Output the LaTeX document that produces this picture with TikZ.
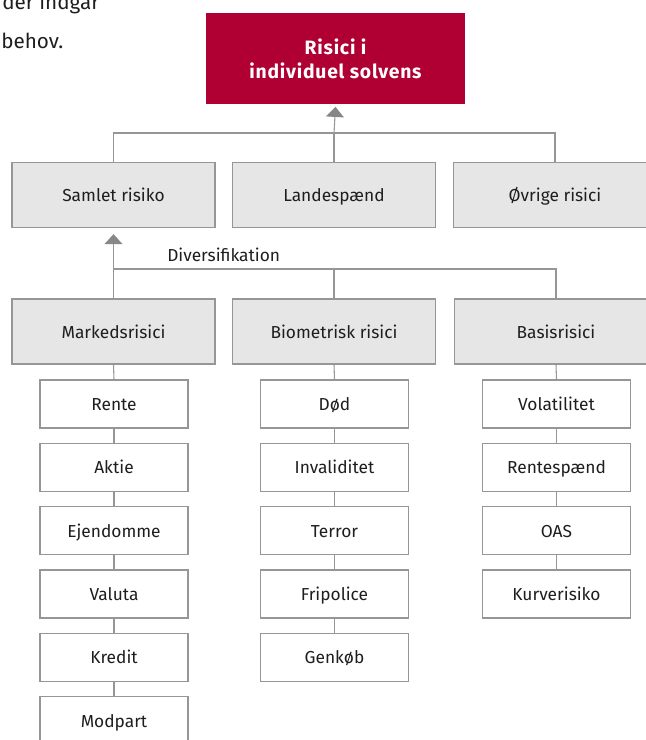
\documentclass[tikz,border=0pt]{standalone}
\usepackage{fontspec}
\setmainfont{Fira Sans}
\usetikzlibrary{arrows.meta}
\definecolor{dred}{RGB}{176,0,51}
\definecolor{boxfill}{RGB}{230,230,230}
\definecolor{boxline}{RGB}{150,150,150}
\definecolor{conn}{RGB}{150,150,150}
\definecolor{arrowc}{RGB}{135,135,135}
\definecolor{txt}{RGB}{30,30,30}
\tikzset{
  dfont/.style={font=\fontsize{13}{15}\selectfont},
  topbox/.style={draw=none,fill=dred,text=white,font=\addfontfeatures{LetterSpace=4}\bfseries\fontsize{14.5}{18}\selectfont,align=center,minimum width=259*0.75pt,minimum height=91*0.75pt,inner sep=0pt},
  graybox/.style={draw=boxline,line width=1pt,fill=boxfill,text=txt,dfont,text height=11pt,text depth=1pt,minimum width=203*0.75pt,minimum height=65*0.75pt,inner sep=0pt},
  leafbox/.style={draw=boxline,line width=1pt,fill=white,text=txt,dfont,text height=11pt,text depth=1pt,minimum width=148*0.75pt,minimum height=48*0.75pt,inner sep=0pt},
  link/.style={draw=conn,line width=0.8pt},
  uparrow/.style={draw=conn,line width=0.8pt,-{Triangle[width=18*0.75pt,length=10*0.75pt,fill=arrowc,color=arrowc]}},
}
\begin{document}
\begin{tikzpicture}[x=0.75pt,y=-0.75pt]
\useasboundingbox (0,0) rectangle (646,740);
\clip (0,0) rectangle (646,740);
% paragraph fragment
\node[anchor=base west,inner sep=0pt,text=txt,font=\fontsize{15.5}{20}\selectfont] (p1) at (2,9) {der indgår};
\node[anchor=base west,inner sep=0pt,text=txt,font=\fontsize{15.5}{20}\selectfont] (p2) at (1,48) {behov.};
% top
\node[topbox] (root) at (335.5,58.5) {Risici i\\individuel solvens};
% level 1
\node[graybox] (samlet) at (113.5,195) {Samlet risiko};
\node[graybox] (landes) at (334,195) {Landespænd};
\node[graybox] (ovrige) at (555,195) {Øvrige risici};
% level 2
\node[graybox] (marked) at (113.5,331.5) {Markedsrisici};
\node[graybox] (biom) at (334,331.5) {Biometrisk risici};
\node[graybox] (basis) at (556,331.5) {Basisrisici};
% leaves col 1
\node[leafbox] (rente) at (114,404) {Rente};
\node[leafbox] (aktie) at (114,467.3) {Aktie};
\node[leafbox] (ejend) at (114,530.7) {Ejendomme};
\node[leafbox] (valuta) at (114,594) {Valuta};
\node[leafbox] (kredit) at (114,657.3) {Kredit};
\node[leafbox] (modpart) at (114,720.7) {Modpart};
% col 2
\node[leafbox] (dod) at (334.5,404) {Død};
\node[leafbox] (invalid) at (334.5,467.3) {Invaliditet};
\node[leafbox] (terror) at (334.5,530.7) {Terror};
\node[leafbox] (fripol) at (334.5,594) {Fripolice};
\node[leafbox] (genkob) at (334.5,657.3) {Genkøb};
% col 3
\node[leafbox] (vola) at (556.5,404) {Volatilitet};
\node[leafbox] (rentesp) at (556.5,467.3) {Rentespænd};
\node[leafbox] (oas) at (556.5,530.7) {OAS};
\node[leafbox] (kurve) at (556.5,594) {Kurverisiko};
% junctions
\coordinate (j1) at (334,133);
\coordinate (j2) at (114,269);
% top connectors
\draw[link] (samlet.north) |- (ovrige.north |- j1) -- (ovrige.north);
\draw[link] (landes.north) -- (landes.north |- j1);
\draw[uparrow] (landes.north |- j1) -- ([yshift=-2pt]root.south);
% second connectors
\draw[link] (basis.north) |- (j2);
\draw[link] (biom.north) -- (biom.north |- j2);
\draw[uparrow] (marked.north) -- ([yshift=-4.5pt]samlet.south);
\node[anchor=west,inner sep=0pt,text=txt,dfont] (div) at (167,255) {Diversifikation};
% leaf chains
\draw[link] (marked.south) -- (rente.north);
\draw[link] (rente.south) -- (aktie.north);
\draw[link] (aktie.south) -- (ejend.north);
\draw[link] (ejend.south) -- (valuta.north);
\draw[link] (valuta.south) -- (kredit.north);
\draw[link] (kredit.south) -- (modpart.north);
\draw[link] (biom.south) -- (dod.north);
\draw[link] (dod.south) -- (invalid.north);
\draw[link] (invalid.south) -- (terror.north);
\draw[link] (terror.south) -- (fripol.north);
\draw[link] (fripol.south) -- (genkob.north);
\draw[link] (basis.south) -- (vola.north);
\draw[link] (vola.south) -- (rentesp.north);
\draw[link] (rentesp.south) -- (oas.north);
\draw[link] (oas.south) -- (kurve.north);
\end{tikzpicture}
\end{document}
